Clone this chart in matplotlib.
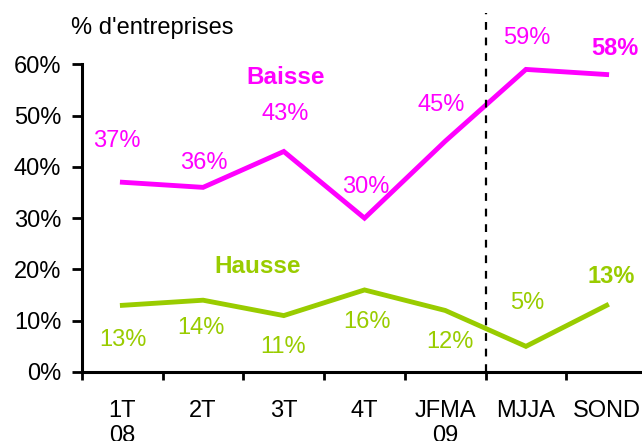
import matplotlib
matplotlib.use("Agg")
import matplotlib.pyplot as plt

plt.rcParams['font.family'] = ['Liberation Sans', 'DejaVu Sans']

categories = ["1T\n08", "2T", "3T", "4T", "JFMA\n09", "MJJA", "SOND"]
baisse = [37, 36, 43, 30, 45, 59, 58]
hausse = [13, 14, 11, 16, 12, 5, 13]
baisse_labels = ["37%", "36%", "43%", "30%", "45%", "59%", "58%"]
hausse_labels = ["13%", "14%", "11%", "16%", "12%", "5%", "13%"]
# label offsets in pixels (dx, dy)
baisse_off = [(-6, 41), (1, 24), (1, 37), (1, 31), (-4, 36), (1, 31), (8, 26)]
hausse_off = [(1, -35), (-2, -28), (-1, -31), (3, -32), (5, -32), (1, 43), (5, 29)]
bold_last = True

MAG = "#FF00FF"
GRN = "#99CC00"
FS = 17

W, H = 642, 441
fig = plt.figure(figsize=(W / 100, H / 100), dpi=100)
x0, x1 = 82, 647
y0, y1 = 372, 13
ax = fig.add_axes([x0 / W, 1 - y0 / H, (x1 - x0) / W, (y0 - y1) / H])

xs = list(range(len(categories)))
ax.plot(xs, [v / 100 for v in baisse], color=MAG, lw=3.5, solid_joinstyle='miter', clip_on=False)
ax.plot(xs, [v / 100 for v in hausse], color=GRN, lw=3.5, solid_joinstyle='miter', clip_on=False)

ax.set_xlim(-0.5, len(categories) - 0.5)
ax.set_ylim(0, 0.7)

for vals, labs, offs, col in [(baisse, baisse_labels, baisse_off, MAG), (hausse, hausse_labels, hausse_off, GRN)]:
    for i, (v, lab, (dx, dy)) in enumerate(zip(vals, labs, offs)):
        ax.annotate(lab, xy=(i, v / 100), xytext=(dx, dy), textcoords='offset pixels',
                    ha='center', va='center', color=col, fontsize=FS,
                    fontweight='bold' if (bold_last and i == len(vals) - 1) else 'normal',
                    annotation_clip=False)

ax.text(2.02, 0.575, "Baisse", color=MAG, fontsize=FS + 0.5, fontweight='bold', ha='center', va='center')
ax.text(1.67, 0.205, "Hausse", color=GRN, fontsize=FS + 0.5, fontweight='bold', ha='center', va='center')

# dashed separator
ax.plot([4.5, 4.5], [0, 1], transform=ax.get_xaxis_transform(), color='black', lw=1.6,
        ls=(0, (3.5, 3.5)), clip_on=False)

# spines
for s in ['top', 'right']:
    ax.spines[s].set_visible(False)
ax.spines['left'].set_linewidth(2.2)
ax.spines['bottom'].set_linewidth(2.2)
ax.spines['left'].set_bounds(0, 0.6)

ax.set_yticks([0, 0.1, 0.2, 0.3, 0.4, 0.5, 0.6])
ax.set_yticklabels([f"{int(round(t*100))}%" for t in [0, 0.1, 0.2, 0.3, 0.4, 0.5, 0.6]], fontsize=FS)
ax.tick_params(axis='y', length=7, width=2, pad=8, direction='out')

ax.set_xticks([i - 0.5 for i in range(len(categories) + 1)])
ax.set_xticklabels([])
ax.tick_params(axis='x', which='major', length=6, width=2, direction='out')
ax.set_xticks(xs, minor=True)
ax.set_xticklabels(categories, minor=True, fontsize=FS, linespacing=1.2)
ax.tick_params(axis='x', which='minor', length=0, pad=20)

fig.text(152 / W, 1 - 28 / H, "% d'entreprises", fontsize=FS, ha='center', va='center')

fig.savefig("out.png", dpi=100)
